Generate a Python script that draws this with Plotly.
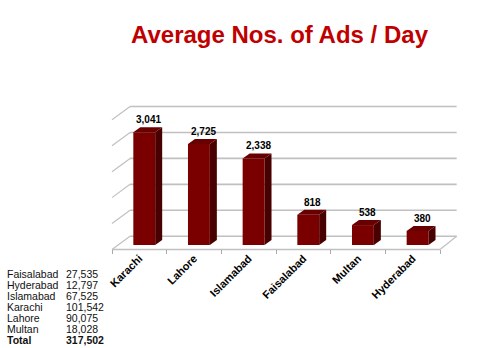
import plotly.graph_objects as go

# ---- data ----
cities = ["Karachi", "Lahore", "Islamabad", "Faisalabad", "Multan", "Hyderabad"]
ads_per_day = [3041, 2725, 2338, 818, 538, 380]
grid_levels = [0, 700, 1400, 2100, 2800, 3500]

table_names = ["Faisalabad", "Hyderabad", "Islamabad", "Karachi", "Lahore", "Multan"]
table_values = ["27,535", "12,797", "67,525", "101,542", "90,075", "18,028"]
table_total = "317,502"

title_text = "Average Nos. of Ads / Day"

# ---- style / geometry (pseudo 3D) ----
W, H = 479, 348
FRONT = "#7a0000"
TOP = "#680000"
SIDE = "#480000"
GRID = "#c0c0c0"
FONT = "Arial, Liberation Sans, sans-serif"

bar_off = -0.11
bar_w = 0.40
depth_x = 0.128      # bar depth in x units
depth_y = 135        # bar depth in value units
floor_front = -121
floor_back = 238
wall_dx = 0.33

idx = list(range(len(cities)))

fig = go.Figure()

# front faces
fig.add_trace(go.Bar(x=idx, y=ads_per_day, offset=bar_off, width=bar_w,
                     marker=dict(color=FRONT, line=dict(width=0)),
                     hoverinfo="skip"))

# side + top faces
for i, v in zip(idx, ads_per_day):
    xl = i + bar_off
    xr = xl + bar_w
    fig.add_trace(go.Scatter(
        x=[xr, xr + depth_x, xr + depth_x, xr, xr],
        y=[0, depth_y, v + depth_y, v, 0],
        fill="toself", fillcolor=SIDE, mode="lines",
        line=dict(width=0, color=SIDE), hoverinfo="skip"))
    fig.add_trace(go.Scatter(
        x=[xl, xr, xr + depth_x, xl + depth_x, xl],
        y=[v, v, v + depth_y, v + depth_y, v],
        fill="toself", fillcolor=TOP, mode="lines",
        line=dict(width=0, color=TOP), hoverinfo="skip"))

n = len(cities)
x_front_l, x_front_r = -0.5, n - 0.5
shapes = []
# back wall gridlines + left wall diagonals
for lv in grid_levels:
    yb = lv + floor_back
    shapes.append(dict(type="line", xref="x", yref="y", layer="below",
                       x0=x_front_l + wall_dx, x1=x_front_r + 0.305, y0=yb, y1=yb,
                       line=dict(color=GRID, width=1.6)))
    shapes.append(dict(type="line", xref="x", yref="y", layer="below",
                       x0=x_front_l, x1=x_front_l + wall_dx,
                       y0=lv + floor_front, y1=yb,
                       line=dict(color=GRID, width=1.2)))
# floor front and right edge
shapes.append(dict(type="line", xref="x", yref="y", layer="below",
                   x0=x_front_l, x1=x_front_r, y0=floor_front, y1=floor_front,
                   line=dict(color=GRID, width=1.4)))
shapes.append(dict(type="line", xref="x", yref="y", layer="below",
                   x0=x_front_r, x1=x_front_r + 0.305, y0=floor_front, y1=floor_back,
                   line=dict(color=GRID, width=1.2)))

annotations = []
# value labels
for i, v in zip(idx, ads_per_day):
    annotations.append(dict(x=i + bar_off + bar_w / 2 + depth_x / 2 + 0.02,
                            y=v + depth_y, xref="x", yref="y",
                            text=f"{v:,}", showarrow=False, yanchor="bottom",
                            yshift=0,
                            font=dict(family=FONT, size=10, color="#000000",
                                      weight="bold")))
# title
annotations.append(dict(x=280 / W, y=1 - 35 / H, xref="paper", yref="paper",
                        text=title_text, showarrow=False, xanchor="center",
                        yanchor="middle",
                        font=dict(family=FONT, size=24, color="#c00000",
                                  weight="bold")))
# table
row0, step = 273.5, 11.0
rows = list(zip(table_names, table_values)) + [("Total", table_total)]
for k, (nm, val) in enumerate(rows):
    yy = 1 - (row0 + step * k) / H
    bold = "bold" if nm == "Total" else "normal"
    annotations.append(dict(x=5 / W, y=yy, xref="paper", yref="paper",
                            text=nm, showarrow=False, xanchor="left",
                            yanchor="middle",
                            font=dict(family=FONT, size=10.5, color="#111111",
                                      weight=bold)))
    annotations.append(dict(x=64 / W, y=yy, xref="paper", yref="paper",
                            text=val, showarrow=False, xanchor="left",
                            yanchor="middle",
                            font=dict(family=FONT, size=10.5, color="#111111",
                                      weight=bold)))

px_per_unit = 328 / 6
dom_l, dom_r = 100, 470
x_lo = -0.5 - (112 - dom_l) / px_per_unit
x_hi = 5.5 + (dom_r - 440) / px_per_unit

val_per_px = 27.0
base_px = 245
top_px, bot_px = 90, 262
y_lo = (base_px - bot_px) * val_per_px
y_hi = (base_px - top_px) * val_per_px

fig.update_layout(
    width=W, height=H,
    margin=dict(l=0, r=0, t=0, b=0),
    paper_bgcolor="white", plot_bgcolor="rgba(0,0,0,0)",
    showlegend=False,
    shapes=shapes, annotations=annotations,
    xaxis=dict(domain=[dom_l / W, dom_r / W], range=[x_lo, x_hi],
               anchor="free", position=1 - 249 / H,
               tickmode="array", tickvals=idx, ticktext=cities,
               tickangle=-45, ticks="", showgrid=False, zeroline=False,
               showline=False,
               tickfont=dict(family=FONT, size=11, color="#000000", weight="bold"),
               minor=dict(tickmode="linear", tick0=-0.5, dtick=1, ticks="outside",
                          ticklen=4, tickcolor="#aaaaaa", showgrid=False),
               fixedrange=True),
    yaxis=dict(domain=[1 - bot_px / H, 1 - top_px / H], range=[y_lo, y_hi],
               visible=False, fixedrange=True),
)

fig.write_html("out.html")
